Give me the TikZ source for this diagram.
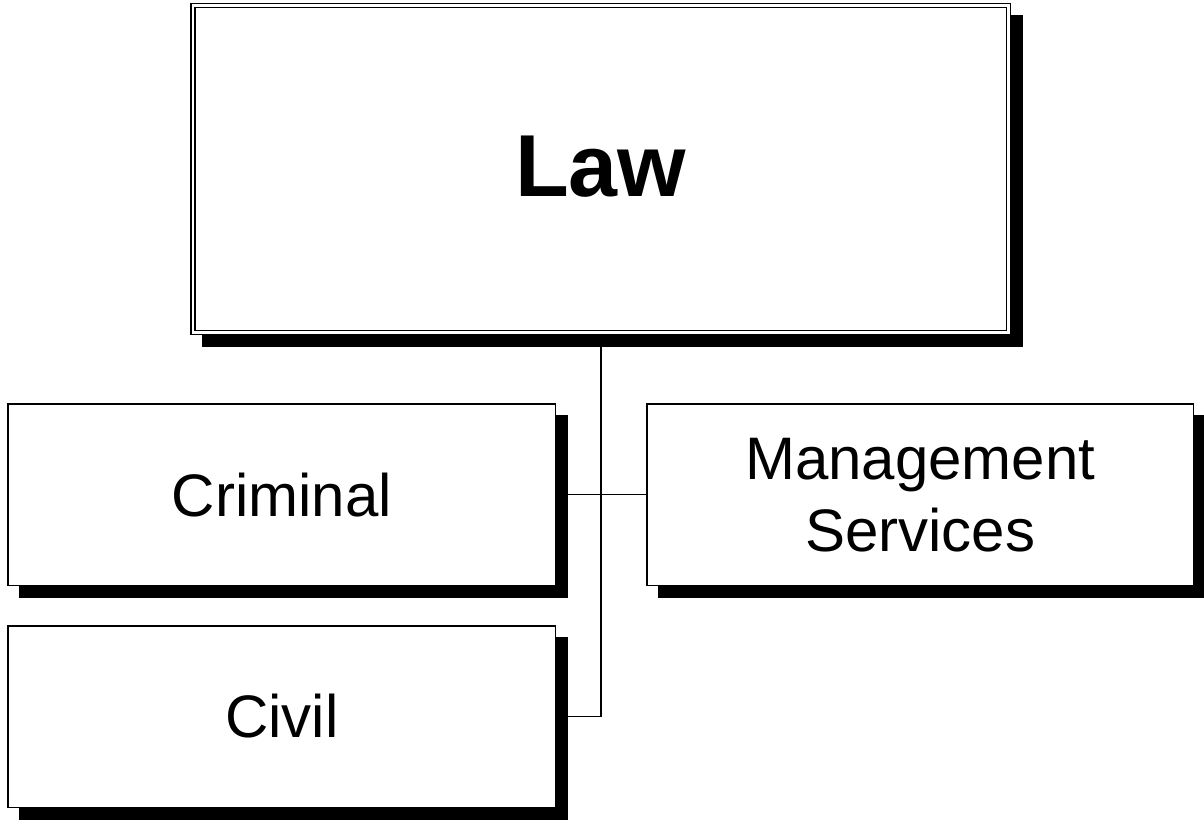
\documentclass[tikz,border=0pt]{standalone}
\usepackage{fontspec}
\setmainfont{Liberation Sans}
\usetikzlibrary{shadows}

\tikzset{
  unitbox/.style={draw=black, fill=white, line width=1.5pt, inner sep=0pt,
    minimum width=547.5pt, minimum height=181.5pt, align=center,
    font=\fontsize{60}{72}\selectfont,
    drop shadow={shadow xshift=12pt, shadow yshift=-12pt, fill=black,
      draw=black, line width=1.5pt, opacity=1}},
  headbox/.style={draw=black, fill=white, line width=1.5pt, double=white,
    double distance=2.5pt, inner sep=0pt,
    minimum width=815.5pt, minimum height=326.8pt,
    font=\fontsize{88}{100}\selectfont\bfseries,
    drop shadow={shadow xshift=12pt, shadow yshift=-12pt, fill=black,
      draw=black, line width=5.5pt, opacity=1}},
  link/.style={draw=black, line width=1.2pt}
}

\begin{document}
\begin{tikzpicture}[x=1pt,y=-1pt]
  \useasboundingbox (0,0) rectangle (1204,820);
  % connectors first, the shadows cover their ends
  \coordinate (foot) at (601,716.5);
  \draw[link] (601,330) -- (foot) -- (300,716.5);
  \draw[link] (300,494.75) -- (900,494.75);
  % boxes
  \node[headbox] (law) at (600.75,168.9) {\raisebox{3pt}[\height][0pt]{Law}};
  \node[unitbox] (criminal) at (281.75,494.75) {Criminal};
  \node[unitbox] (civil) at (281.75,716.5) {Civil};
  \node[unitbox, minimum width=546.5pt] (mgmt) at (920.25,494.75) {Management\\Services};
\end{tikzpicture}
\end{document}
